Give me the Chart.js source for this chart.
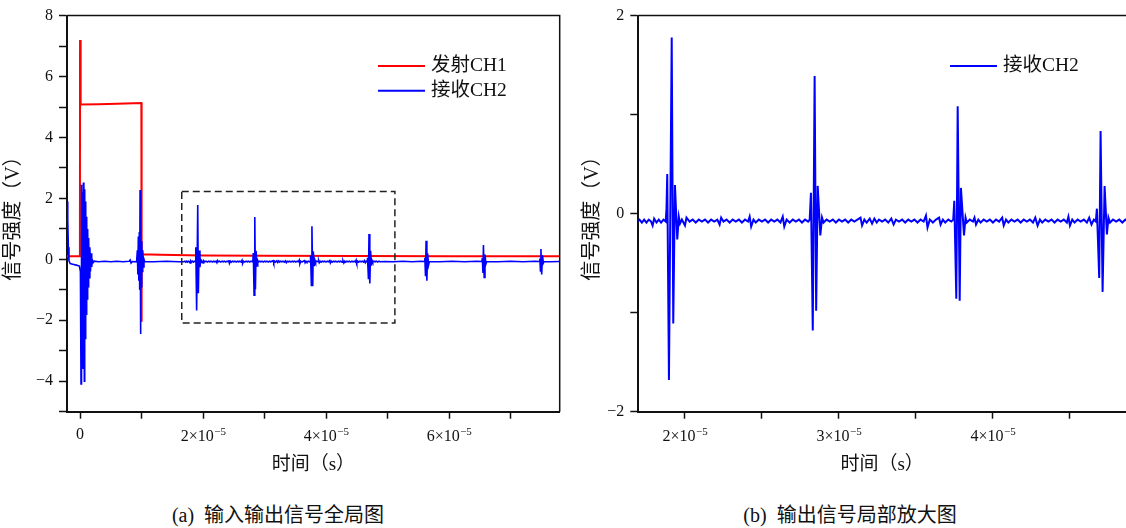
<!DOCTYPE html>
<html>
<head>
<meta charset="utf-8">
<script src="https://cdn.jsdelivr.net/npm/chart.js@4.4.1/dist/chart.umd.min.js"></script>
<style>
  body { margin: 0; background: #fff; width: 1126px; height: 528px; overflow: hidden; position: relative;
         font-family: 'Liberation Serif', 'Noto Sans CJK SC', serif; color: #111; }
  canvas { position: absolute; top: 0; }
  #chartA { left: 0; }
  #chartB { left: 570px; }
  .cap { position: absolute; top: 502px; font-size: 20px; line-height: 26px; white-space: nowrap;
         transform: translateX(-50%); }
</style>
</head>
<body>
<canvas id="chartA" width="570" height="480"></canvas>
<canvas id="chartB" width="556" height="480"></canvas>
<div class="cap" style="left:278px">(a)&nbsp; 输入输出信号全局图</div>
<div class="cap" style="left:850px">(b)&nbsp; 输出信号局部放大图</div>
<script>
'use strict';

// time values are in units of 10^-5 s, voltages in V
const SERIES_LABELS = ['发射CH1', '接收CH2'];

// transmit channel (left panel only)
const ch1 = [
  [-0.212, 0.10], [-0.002, 0.10], [0.000, 7.20], [0.010, 5.08], [0.300, 5.09], [0.600, 5.11],
  [0.997, 5.13], [0.999, -2.05], [1.004, 0.17], [1.300, 0.15], [2.000, 0.13], [3.000, 0.12],
  [4.500, 0.11], [6.000, 0.10], [7.800, 0.10],
];

// receive channel, start of record up to the zoom window
const ch2Start = [
  [-0.212, 1.90], [-0.200, 1.30], [-0.190, 0.40], [-0.180, -0.05], [-0.160, -0.14], [-0.120, -0.16],
  [-0.060, -0.19], [-0.010, -0.22], [0.006, -0.40], [0.016, -4.09], [0.024, 2.45], [0.032, -3.30],
  [0.040, 2.20], [0.048, -3.60], [0.054, 2.52], [0.062, 1.00], [0.070, -4.00], [0.076, 2.30],
  [0.084, -2.60], [0.092, 1.90], [0.100, -1.80], [0.108, 1.40], [0.116, -1.30], [0.124, 1.00],
  [0.132, -0.90], [0.140, 0.70], [0.150, -0.60], [0.160, 0.40], [0.170, -0.40], [0.180, 0.20],
  [0.190, -0.25], [0.200, -0.02], [0.215, -0.10], [0.230, -0.06], [0.300, -0.08], [0.400, -0.06],
  [0.500, -0.08], [0.600, -0.06], [0.700, -0.08], [0.800, -0.06], [0.815, -0.02], [0.830, -0.12],
  [0.850, -0.07], [0.920, -0.08], [0.932, 0.30], [0.940, -0.50], [0.948, 0.75], [0.956, -0.70],
  [0.964, 0.90], [0.970, -1.00], [0.976, 2.28], [0.982, -2.45], [0.990, 1.20], [0.997, -0.90],
  [1.004, 0.60], [1.012, -0.40], [1.020, 0.30], [1.030, -0.25], [1.040, 0.00], [1.050, -0.07],
  [1.200, -0.08], [1.400, -0.06], [1.600, -0.08],
];

// receive channel inside the zoom window (drawn in both panels)
const ch2Zoom = [
  [1.690, -0.08], [1.705, -0.06], [1.720, -0.09], [1.735, -0.06], [1.750, -0.09], [1.765, -0.06],
  [1.780, -0.08], [1.790, -0.12], [1.800, -0.05], [1.815, -0.09], [1.830, -0.06], [1.845, -0.09],
  [1.860, -0.06], [1.875, -0.08],
  [1.880, 0.05], [1.885, 0.40], [1.896, -1.68], [1.914, 1.78], [1.924, -1.11], [1.935, 0.29],
  [1.950, -0.26], [1.960, -0.03], [1.968, -0.10],
  [1.980, -0.06], [2.000, -0.12], [2.010, -0.04], [2.030, -0.08], [2.050, -0.06], [2.070, -0.09],
  [2.090, -0.06], [2.110, -0.08], [2.130, -0.06], [2.150, -0.09], [2.170, -0.06], [2.190, -0.08],
  [2.210, -0.06], [2.225, -0.11], [2.235, -0.04], [2.250, -0.08], [2.270, -0.06], [2.290, -0.09],
  [2.310, -0.06], [2.330, -0.08], [2.350, -0.06], [2.370, -0.09], [2.390, -0.06], [2.410, -0.08],
  [2.420, -0.03], [2.430, -0.13], [2.445, -0.06], [2.460, -0.09], [2.480, -0.06], [2.500, -0.08],
  [2.520, -0.06], [2.540, -0.09], [2.560, -0.06], [2.580, -0.08], [2.600, -0.06], [2.620, -0.09],
  [2.635, -0.03], [2.645, -0.13], [2.660, -0.06], [2.680, -0.09], [2.700, -0.06], [2.720, -0.08],
  [2.740, -0.06], [2.760, -0.09], [2.780, -0.06], [2.800, -0.08],
  [2.810, -0.06], [2.818, 0.21], [2.830, -1.18], [2.842, 1.39], [2.852, -0.98], [2.862, 0.28],
  [2.879, -0.22], [2.890, -0.04], [2.900, -0.09],
  [2.920, -0.06], [2.940, -0.08], [2.960, -0.06], [2.980, -0.09], [3.000, -0.06], [3.020, -0.08],
  [3.040, -0.06], [3.060, -0.09], [3.080, -0.06], [3.100, -0.08], [3.120, -0.06], [3.140, -0.04],
  [3.150, -0.12], [3.165, -0.06], [3.180, -0.09], [3.200, -0.05], [3.215, -0.10], [3.230, -0.05],
  [3.245, -0.09], [3.260, -0.06], [3.280, -0.08], [3.300, -0.06], [3.320, -0.09], [3.340, -0.05],
  [3.355, -0.11], [3.370, -0.06], [3.390, -0.08], [3.410, -0.06], [3.430, -0.09], [3.450, -0.06],
  [3.470, -0.08], [3.490, -0.06], [3.510, -0.09], [3.530, -0.06], [3.550, -0.08], [3.565, -0.02],
  [3.575, -0.14], [3.590, -0.06], [3.610, -0.09], [3.630, -0.06], [3.650, -0.04], [3.660, -0.11],
  [3.675, -0.06], [3.690, -0.09], [3.710, -0.06], [3.730, -0.08], [3.742, -0.06],
  [3.749, 0.13], [3.762, -0.86], [3.771, 1.085], [3.784, -0.88], [3.792, 0.26], [3.812, -0.22],
  [3.822, -0.04], [3.830, -0.09],
  [3.850, -0.06], [3.870, -0.08], [3.880, -0.04], [3.890, -0.11], [3.905, -0.06], [3.920, -0.09],
  [3.940, -0.06], [3.960, -0.08], [3.980, -0.06], [4.000, -0.09], [4.020, -0.06], [4.040, -0.08],
  [4.060, -0.04], [4.070, -0.12], [4.085, -0.06], [4.100, -0.09], [4.120, -0.06], [4.140, -0.08],
  [4.160, -0.06], [4.180, -0.09], [4.200, -0.06], [4.220, -0.08], [4.240, -0.06], [4.260, -0.09],
  [4.275, -0.04], [4.290, -0.12], [4.305, -0.06], [4.320, -0.09], [4.340, -0.06], [4.360, -0.08],
  [4.380, -0.06], [4.400, -0.09], [4.420, -0.06], [4.440, -0.08], [4.460, -0.06], [4.480, -0.09],
  [4.490, -0.03], [4.500, -0.12], [4.515, -0.06], [4.530, -0.09], [4.550, -0.06], [4.570, -0.08],
  [4.590, -0.06], [4.610, -0.09], [4.625, -0.04], [4.640, -0.11], [4.655, -0.06], [4.668, -0.08],
  [4.675, 0.05], [4.690, -0.65], [4.699, 0.835], [4.712, -0.79], [4.725, 0.28], [4.740, -0.21],
  [4.750, -0.04], [4.760, -0.09], [4.780, -0.06], [4.800, -0.08], [4.820, -0.06], [4.840, -0.09],
  [4.860, -0.06], [4.880, -0.08],
];

// receive channel after the zoom window
const ch2Tail = [
  [4.950, -0.07], [5.100, -0.08], [5.250, -0.06], [5.400, -0.08], [5.550, -0.06], [5.600, -0.07],
  [5.607, 0.05], [5.618, -0.55], [5.627, 0.61], [5.640, -0.70], [5.652, 0.20], [5.668, -0.18],
  [5.680, -0.07], [5.850, -0.08], [6.050, -0.06], [6.250, -0.08], [6.450, -0.06], [6.535, -0.07],
  [6.542, 0.04], [6.552, -0.45], [6.560, 0.47], [6.572, -0.59], [6.585, 0.16], [6.600, -0.15],
  [6.612, -0.07], [6.800, -0.08], [7.000, -0.06], [7.200, -0.08], [7.400, -0.06], [7.470, -0.07],
  [7.477, 0.03], [7.487, -0.38], [7.495, 0.34], [7.507, -0.50], [7.520, 0.13], [7.535, -0.12],
  [7.547, -0.07], [7.650, -0.08], [7.800, -0.07],
];

// dashed zoom box in the left panel
const boxT = [1.654, 5.12];
const boxV = [-2.09, 2.23];

// ticks (major ones get labels)
const xMajorA = [0, 2, 4, 6];
const xMinorA = [1, 3, 5, 7];
const yMajorA = [-4, -2, 0, 2, 4, 6, 8];
const yMinorA = [-5, -3, -1, 1, 3, 5, 7];
const xMajorB = [2, 3, 4];
const xMinorB = [2.5, 3.5, 4.5];
const yMajorB = [-2, 0, 2];
const yMinorB = [-1, 1];

const RED = '#ff0000';
const BLUE = '#0000ff';
const INK = '#111';
const SERIF = "'Liberation Serif', 'Noto Sans CJK SC', serif";

Chart.defaults.font.family = SERIF;
Chart.defaults.color = INK;

const pts = arr => arr.map(([t, v]) => ({ x: t, y: v }));
const minus = v => (v < 0 ? '\u2212' + Math.abs(v) : String(v));

// ── plugins ────────────────────────────────────────────────────────────────

// top/right frame lines of the plot box
const frame = {
  id: 'frame',
  afterDraw(chart, args, opts) {
    const { ctx, chartArea: a } = chart;
    ctx.save();
    ctx.strokeStyle = INK;
    ctx.lineWidth = 1.5;
    ctx.beginPath();
    ctx.moveTo(a.left, a.top);
    ctx.lineTo(a.right, a.top);
    if (opts.right) ctx.lineTo(a.right, a.bottom);
    ctx.stroke();
    ctx.restore();
  },
};

// legend drawn inside the plot box
const insideLegend = {
  id: 'insideLegend',
  afterDatasetsDraw(chart, args, opts) {
    const ctx = chart.ctx;
    const items = chart.data.datasets.filter(d => d.label);
    ctx.save();
    ctx.font = '19.5px ' + SERIF;
    ctx.textBaseline = 'middle';
    items.forEach((d, i) => {
      const y = opts.y + i * 24.7;
      ctx.strokeStyle = d.borderColor;
      ctx.lineWidth = 2;
      ctx.beginPath();
      ctx.moveTo(opts.x, y);
      ctx.lineTo(opts.x + 47, y);
      ctx.stroke();
      ctx.fillStyle = INK;
      ctx.fillText(d.label, opts.x + 53, y);
    });
    ctx.restore();
  },
};

// x tick labels as  n×10^-5
const sciTicks = {
  id: 'sciTicks',
  afterDraw(chart) {
    const s = chart.scales.x, ctx = chart.ctx;
    ctx.save();
    ctx.fillStyle = INK;
    ctx.textBaseline = 'alphabetic';
    s.ticks.forEach((t, i) => {
      if (!t.label) return;
      const px = s.getPixelForTick(i);
      ctx.font = "16px 'Liberation Serif'";
      if (t.label === '0') {
        ctx.textAlign = 'center';
        ctx.fillText('0', px, s.top + 27);
        return;
      }
      const base = t.label + '×10', sup = '\u22125';
      const w1 = ctx.measureText(base).width;
      ctx.font = "11px 'Liberation Serif'";
      const w2 = ctx.measureText(sup).width;
      const x0 = px - (w1 + w2) / 2;
      ctx.textAlign = 'left';
      ctx.font = "16px 'Liberation Serif'";
      ctx.fillText(base, x0, s.top + 29.5);
      ctx.font = "11px 'Liberation Serif'";
      ctx.fillText(sup, x0 + w1 + 0.5, s.top + 23);
    });
    ctx.restore();
  },
};

// ── axis helpers ───────────────────────────────────────────────────────────

function xAxis(min, max, major, minor, height) {
  const all = major.concat(minor).sort((a, b) => a - b);
  return {
    type: 'linear', min, max,
    afterBuildTicks: s => { s.ticks = all.map(v => ({ value: v })); },
    afterFit: s => { s.height = height; },
    ticks: {
      autoSkip: false, maxRotation: 0, minRotation: 0, padding: 3,
      color: 'rgba(0,0,0,0)',
      callback: v => (major.includes(v) ? String(v) : ''),
    },
    grid: { drawOnChartArea: false, drawTicks: true, tickLength: 7, tickWidth: 1.5, tickColor: INK },
    border: { display: true, color: INK, width: 2 },
    title: { display: true, text: '时间（s）', font: { size: 19 }, padding: { top: 0, bottom: 4 } },
  };
}

function yAxis(min, max, major, minor, width, titlePad) {
  const all = major.concat(minor).sort((a, b) => a - b);
  return {
    type: 'linear', min, max,
    afterBuildTicks: s => { s.ticks = all.map(v => ({ value: v })); },
    afterFit: s => { s.width = width; },
    ticks: {
      autoSkip: false, padding: 6, font: { size: 16 },
      callback: v => (major.includes(v) ? minus(v) : ''),
    },
    grid: { drawOnChartArea: false, drawTicks: true, tickLength: 8, tickWidth: 1.5, tickColor: INK },
    border: { display: true, color: INK, width: 2 },
    title: { display: true, text: '信号强度（V）', font: { size: 20 }, padding: { top: titlePad, bottom: 0 } },
  };
}

const lineDefaults = { pointRadius: 0, tension: 0, fill: false };

// ── left panel: full record ────────────────────────────────────────────────

new Chart(document.getElementById('chartA'), {
  type: 'line',
  data: {
    datasets: [
      { ...lineDefaults, label: SERIES_LABELS[0], data: pts(ch1), borderColor: RED, borderWidth: 2, order: 2 },
      { ...lineDefaults, label: SERIES_LABELS[1], data: pts(ch2Start.concat(ch2Zoom, ch2Tail)),
        borderColor: BLUE, borderWidth: 1.6, order: 1 },
      { ...lineDefaults, label: '', order: 0, borderColor: '#222', borderWidth: 1.5, borderDash: [7, 4],
        data: pts([[boxT[0], boxV[1]], [boxT[1], boxV[1]], [boxT[1], boxV[0]], [boxT[0], boxV[0]], [boxT[0], boxV[1]]]) },
    ],
  },
  options: {
    responsive: false, animation: false, events: [],
    layout: { padding: { left: 0, top: 15, right: 10.3, bottom: 0 } },
    plugins: {
      legend: { display: false }, tooltip: { enabled: false },
      frame: { right: true },
      insideLegend: { x: 378, y: 66 },
    },
    scales: {
      x: xAxis(-0.212, 7.80, xMajorA, xMinorA, 68.3),
      y: yAxis(-5, 8, yMajorA, yMinorA, 67, 2),
    },
  },
  plugins: [frame, insideLegend, sciTicks],
});

// ── right panel: zoomed receive signal ─────────────────────────────────────

new Chart(document.getElementById('chartB'), {
  type: 'line',
  data: {
    datasets: [
      { ...lineDefaults, label: SERIES_LABELS[1], data: pts(ch2Zoom), borderColor: BLUE, borderWidth: 2 },
    ],
  },
  options: {
    responsive: false, animation: false, events: [],
    layout: { padding: { left: 0, top: 15, right: 0, bottom: 0 } },
    plugins: {
      legend: { display: false }, tooltip: { enabled: false },
      frame: { right: false },
      insideLegend: { x: 380, y: 66 },
    },
    scales: {
      x: xAxis(1.697, 4.864, xMajorB, xMinorB, 68.3),
      y: yAxis(-2, 2, yMajorB, yMinorB, 68.3, 11),
    },
  },
  plugins: [frame, insideLegend, sciTicks],
});
</script>
</body>
</html>
